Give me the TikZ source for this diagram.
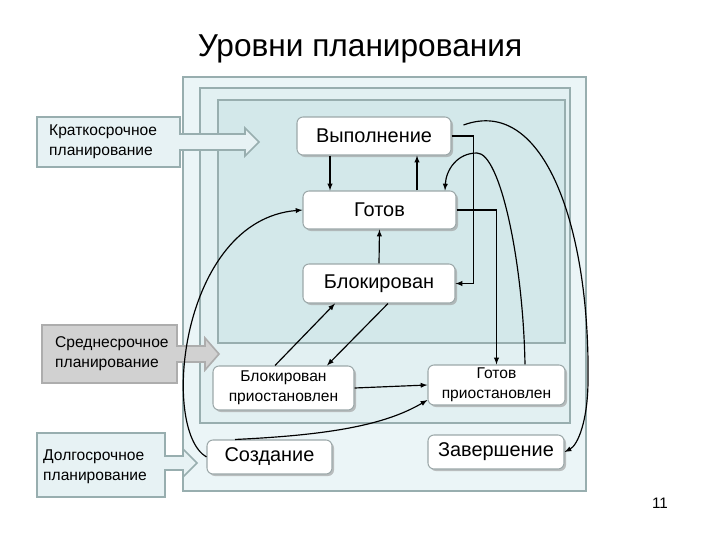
\documentclass[tikz,border=0pt]{standalone}
\usepackage{fontspec}
\setmainfont{Liberation Sans}
\usetikzlibrary{positioning, calc, shadows}
\definecolor{outerfill}{HTML}{EBF5F7}
\definecolor{midfill}{HTML}{E2F0F2}
\definecolor{innerfill}{HTML}{D3E8EA}
\definecolor{frameline}{HTML}{98AEAF}
\definecolor{boxline}{HTML}{9CA8A9}
\definecolor{planfill}{HTML}{E7F2F4}
\definecolor{midplan}{HTML}{D1D1D1}
\definecolor{midplanline}{HTML}{ADADAD}

\begin{document}
\begin{tikzpicture}[x=0.3mm, y=-0.3mm,
	proc/.style={draw=boxline, line width=0.9pt, rounded corners=0.18cm, fill=white, align=center, inner sep=0pt,
		drop shadow={shadow xshift=0.06cm, shadow yshift=-0.06cm, fill=black!40, opacity=0.6}},
	big/.style={font=\fontsize{17}{20}\selectfont},
	lbl/.style={font=\fontsize{13.3}{17}\selectfont, inner sep=0pt},
	lvlbox/.style={draw=frameline, line width=1.8pt},
	planarrow/.style={draw=frameline, line width=1.4pt, fill=planfill},
	arr/.style={-latex, line width=1pt}]
	\useasboundingbox (0,0) rectangle (720,540);

	\node (title) at (360,56) [anchor=base, font=\fontsize{27}{32}\selectfont] {Уровни планирования};

	% levels
	\draw[lvlbox, fill=outerfill] (183,77) rectangle (586,491);
	\draw[lvlbox, fill=midfill] (200,88) rectangle (570,423);
	\draw[lvlbox, fill=innerfill] (218,100) rectangle (565,343);

	% planning arrows
	\draw[planarrow] (37,117) -- (180,117) -- (180,134) -- (245,134) -- (245,128) -- (259,142) -- (245,156) -- (245,150) -- (180,150) -- (180,167) -- (37,167) -- cycle;
	\draw[planarrow, draw=midplanline, fill=midplan] (42,325) -- (177,325) -- (177,346) -- (205,346) -- (205,338) -- (219,354) -- (205,370) -- (205,362) -- (177,362) -- (177,383) -- (42,383) -- cycle;
	\draw[planarrow] (37,433) -- (165,433) -- (165,456) -- (183,456) -- (183,449) -- (197,463) -- (183,477) -- (183,470) -- (165,470) -- (165,497) -- (37,497) -- cycle;
	\node (7) at (49,142) [lbl, anchor=west, align=left] {Краткосрочное\\планирование};
	\node (8) at (55,354) [lbl, anchor=west, align=left] {Среднесрочное\\планирование};
	\node (9) at (43,467) [lbl, anchor=west, align=left] {Долгосрочное\\планирование};

	% states
	\node (0) at (374,136) [proc, big, minimum width=4.62cm, minimum height=1.14cm] {Выполнение};
	\node (1) at (379.5,210) [proc, big, minimum width=4.59cm, minimum height=1.14cm] {Готов};
	\node (2) at (379,283.5) [proc, big, minimum width=4.56cm, minimum height=1.17cm] {Блокирован};
	\node (3) at (283.5,388) [proc, lbl, minimum width=4.23cm, minimum height=1.32cm] {Блокирован\\приостановлен};
	\node (4) at (496.5,385) [proc, lbl, minimum width=4.11cm, minimum height=1.2cm] {Готов\\приостановлен};
	\node (5) at (269.5,457) [proc, big, minimum width=3.75cm, minimum height=1.02cm] {Создание};
	\node (6) at (496,452) [proc, big, minimum width=4.08cm, minimum height=1.02cm] {Завершение};

	\draw[arr] ($(0.south)+(-44,0)$) -- ($(1.north)+(-49.5,0)$);
	\draw[arr] ($(1.north)+(37.5,0)$) -- ($(0.south)+(43,0)$);
	\draw[arr] (2.north) -- (1.south);
	\draw[arr] (0.east) -- ++(22,0) |- (2.east);
	\draw[arr] (1.east) -| (4.north);
	\draw[arr] ($(4.north)+(28.5,0)$) .. controls (523,260) and (500,153) .. (477,153) .. controls (457,153) and (446,170) .. ($(1.north)+(65.5,0)$);
	\draw[arr] ($(0.east)+(12,-11)$) .. controls (545,95) and (590,230) .. (588,380) .. controls (588,420) and (578,445) .. (6.east);
	\draw[arr] (5.west) .. controls (160,430) and (180,220) .. (1.west);
	\draw[arr] ($(5.north)+(-34.5,0)$) .. controls (330,435) and (385,425) .. ($(4.west)+(0,15)$);
	\draw[arr] (3.east) -- (4.west);
	\draw[arr] ($(3.north)+(-8.5,0)$) -- ($(2.south)+(-44,0)$);
	\draw[arr] ($(2.south)+(9,0)$) -- ($(3.north)+(43.5,0)$);

	\node (num) at (660,503) [font=\fontsize{13}{15}\selectfont] {11};
\end{tikzpicture}
\end{document}
